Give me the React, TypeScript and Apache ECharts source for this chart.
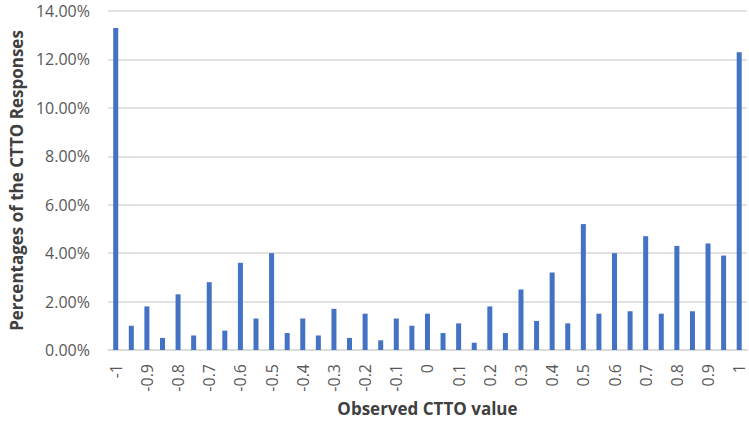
import React, { useEffect, useRef } from "react";
import * as echarts from "echarts";

const categories = [
  "-1", "-0.95", "-0.9", "-0.85", "-0.8", "-0.75", "-0.7", "-0.65", "-0.6", "-0.55",
  "-0.5", "-0.45", "-0.4", "-0.35", "-0.3", "-0.25", "-0.2", "-0.15", "-0.1", "-0.05",
  "0", "0.05", "0.1", "0.15", "0.2", "0.25", "0.3", "0.35", "0.4", "0.45",
  "0.5", "0.55", "0.6", "0.65", "0.7", "0.75", "0.8", "0.85", "0.9", "0.95", "1",
];

const percentages = [
  13.3, 1.0, 1.8, 0.5, 2.3, 0.6, 2.8, 0.8, 3.6, 1.3,
  4.0, 0.7, 1.3, 0.6, 1.7, 0.5, 1.5, 0.4, 1.3, 1.0,
  1.5, 0.7, 1.1, 0.3, 1.8, 0.7, 2.5, 1.2, 3.2, 1.1,
  5.2, 1.5, 4.0, 1.6, 4.7, 1.5, 4.3, 1.6, 4.4, 3.9, 12.3,
];

const yTitle = "Percentages of the CTTO Responses";
const xTitle = "Observed CTTO value";

const FONT = "'Open Sans', 'Noto Sans', sans-serif";

export default function App() {
  const ref = useRef<HTMLDivElement>(null);
  useEffect(() => {
    if (!ref.current) return;
    const chart = echarts.init(ref.current, undefined, { renderer: "svg" });
    chart.setOption({
      animation: false,
      grid: { left: 100, right: 2, top: 11, bottom: 69, containLabel: false },
      xAxis: {
        type: "category",
        data: categories,
        boundaryGap: true,
        axisLine: { show: true, lineStyle: { color: "#d9d9d9", width: 1.5 } },
        axisTick: { show: false },
        axisLabel: {
          interval: 1,
          rotate: 90,
          margin: 14,
          color: "#595959",
          fontFamily: FONT,
          fontSize: 16,
          lineHeight: 14,
        },
        name: xTitle,
        nameLocation: "middle",
        nameGap: 50,
        nameTextStyle: {
          color: "#404040",
          fontFamily: FONT,
          fontSize: 17,
          fontWeight: "bold",
        },
      },
      yAxis: {
        type: "value",
        min: 0,
        max: 14,
        interval: 2,
        axisLine: { show: false },
        axisTick: { show: false },
        splitLine: { lineStyle: { color: "#d9d9d9", width: 1.5 } },
        axisLabel: {
          margin: 18,
          color: "#595959",
          fontFamily: FONT,
          fontSize: 16,
          lineHeight: 14,
          formatter: (v: number) => v.toFixed(2) + "%",
        },
        name: yTitle,
        nameLocation: "middle",
        nameGap: 82,
        nameTextStyle: {
          color: "#404040",
          fontFamily: FONT,
          fontSize: 17,
          fontWeight: "bold",
        },
      },
      series: [
        {
          type: "bar",
          data: percentages,
          barWidth: 5,
          itemStyle: { color: "#4472C4" },
        },
      ],
    });
    return () => chart.dispose();
  }, []);
  return <div ref={ref} style={{ width: 749, height: 422, position: "absolute", left: 0, top: 0 }} />;
}
